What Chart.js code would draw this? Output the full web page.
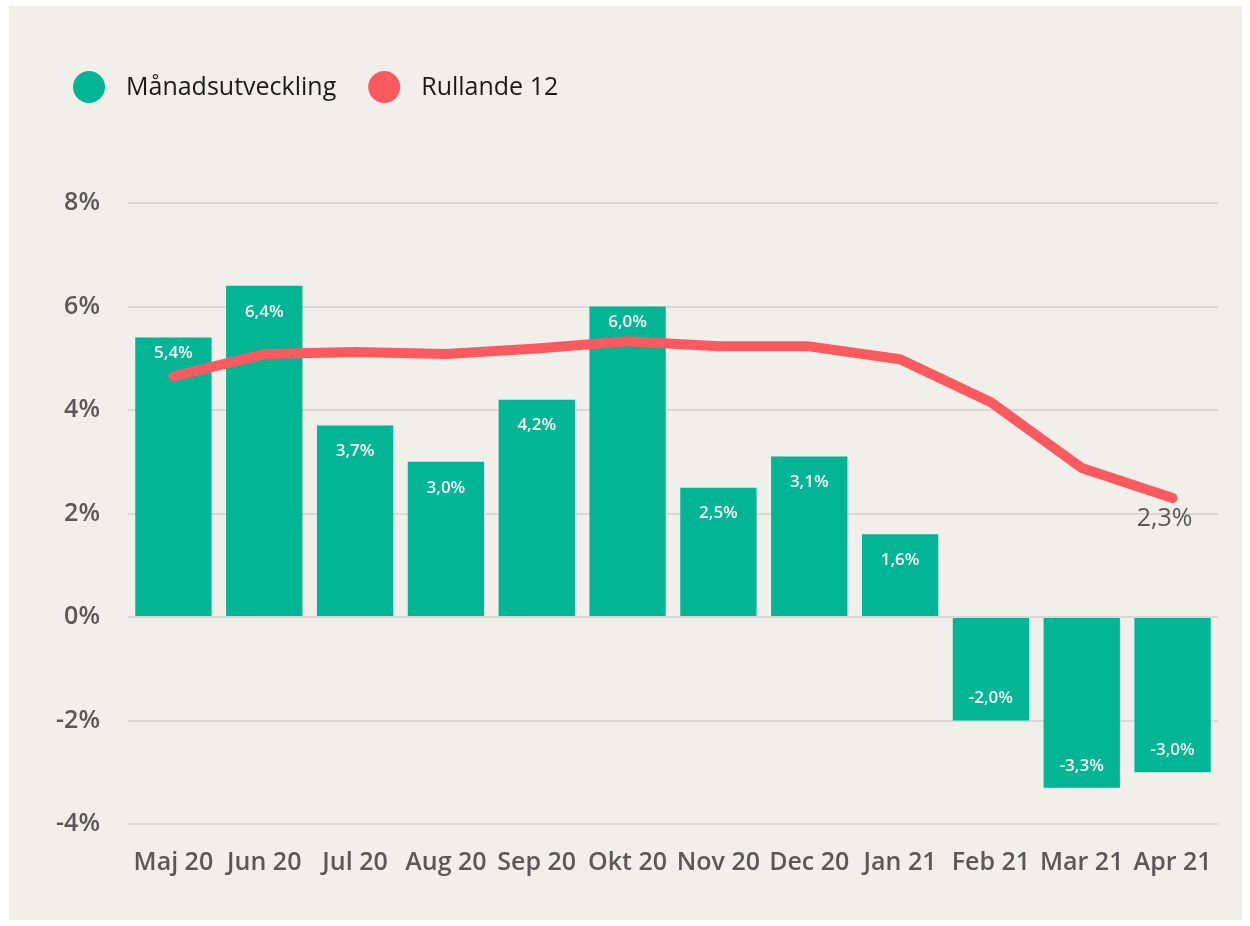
<!DOCTYPE html>
<html>
<head>
<meta charset="utf-8">
<script src="https://cdn.jsdelivr.net/npm/chart.js@4"></script>
<style>
  html, body { margin: 0; padding: 0; background: #ffffff; }
  #wrap { position: absolute; left: 9px; top: 6px; width: 1233px; height: 914px; background: #f0efea; }
</style>
</head>
<body>
<div id="wrap"><canvas id="chart"></canvas></div>
<script>
// data
var months = ["Maj 20", "Jun 20", "Jul 20", "Aug 20", "Sep 20", "Okt 20", "Nov 20", "Dec 20", "Jan 21", "Feb 21", "Mar 21", "Apr 21"];
var monthly = [5.4, 6.4, 3.7, 3.0, 4.2, 6.0, 2.5, 3.1, 1.6, -2.0, -3.3, -3.0];
var rolling12 = [4.65, 5.08, 5.12, 5.08, 5.19, 5.33, 5.23, 5.23, 4.98, 4.15, 2.88, 2.3];
var yTicks = [-4, -2, 0, 2, 4, 6, 8];

var FONT = "'Open Sans', 'Noto Sans', sans-serif";
var GREEN = "#01b595";
var RED = "#fd5a60";

function pct(v) {
  return v.toFixed(1).replace(".", ",") + "%";
}

// white value labels in the bars + label at the end of the line
var labelPlugin = {
  id: "labels",
  afterDatasetsDraw: function (chart) {
    var ctx = chart.ctx;
    var bars = chart.getDatasetMeta(0).data;
    var line = chart.getDatasetMeta(1).data;
    ctx.save();
    ctx.textAlign = "center";
    ctx.textBaseline = "middle";
    ctx.fillStyle = "#ffffff";
    ctx.font = "600 17px " + FONT;
    bars.forEach(function (bar, i) {
      var v = monthly[i];
      var y;
      if (v >= 0) {
        y = bar.y + 26;
        if (Math.abs(y - line[i].y) < 24) y = bar.y + 16; // keep clear of the line
      } else {
        y = bar.y - 22;
      }
      ctx.fillText(pct(v), bar.x, y);
    });
    var last = line[line.length - 1];
    ctx.fillStyle = "#595959";
    ctx.font = "400 25px " + FONT;
    ctx.fillText(pct(rolling12[rolling12.length - 1]), last.x - 8, last.y + 21);
    ctx.restore();
  }
};

// legend: circle + text for each dataset, top left
var legendPlugin = {
  id: "simpleLegend",
  afterDraw: function (chart) {
    var ctx = chart.ctx;
    var x = 80;
    var y = 81;
    ctx.save();
    ctx.font = "400 25px " + FONT;
    ctx.textBaseline = "middle";
    ctx.textAlign = "left";
    chart.data.datasets.forEach(function (ds) {
      ctx.fillStyle = ds.type === "line" ? ds.borderColor : ds.backgroundColor;
      ctx.beginPath();
      ctx.arc(x, y, 16, 0, Math.PI * 2);
      ctx.fill();
      ctx.fillStyle = "#1a1a1a";
      ctx.fillText(ds.label, x + 37, y + 1);
      x += 37 + ctx.measureText(ds.label).width + 48;
    });
    ctx.restore();
  }
};

var ctx = document.getElementById("chart").getContext("2d");

new Chart(ctx, {
  data: {
    labels: months,
    datasets: [
      {
        type: "bar",
        label: "Månadsutveckling",
        data: monthly,
        backgroundColor: GREEN,
        categoryPercentage: 0.84,
        barPercentage: 1,
        order: 2
      },
      {
        type: "line",
        label: "Rullande 12",
        data: rolling12,
        borderColor: RED,
        backgroundColor: RED,
        borderWidth: 10,
        borderCapStyle: "round",
        borderJoinStyle: "round",
        pointRadius: 0,
        tension: 0,
        order: 1
      }
    ]
  },
  options: {
    responsive: true,
    maintainAspectRatio: false,
    animation: false,
    layout: { padding: { left: 20, right: 24, top: 197, bottom: 26 } },
    plugins: {
      legend: { display: false },
      tooltip: { enabled: false }
    },
    scales: {
      x: {
        grid: { display: false },
        border: { display: false },
        ticks: {
          color: "#595959",
          font: { family: FONT, size: 25, weight: "600" },
          padding: 16,
          maxRotation: 0
        }
      },
      y: {
        min: -4,
        max: 8,
        afterBuildTicks: function (scale) {
          scale.ticks = yTicks.map(function (v) { return { value: v }; });
        },
        afterFit: function (scale) { scale.width = 99; },
        grid: { color: "#d9d8d4", lineWidth: 2, drawTicks: false },
        border: { display: false },
        ticks: {
          color: "#595959",
          font: { family: FONT, size: 25, weight: "600" },
          padding: 28,
          callback: function (v) { return v + "%"; }
        }
      }
    }
  },
  plugins: [labelPlugin, legendPlugin]
});
</script>
</body>
</html>
